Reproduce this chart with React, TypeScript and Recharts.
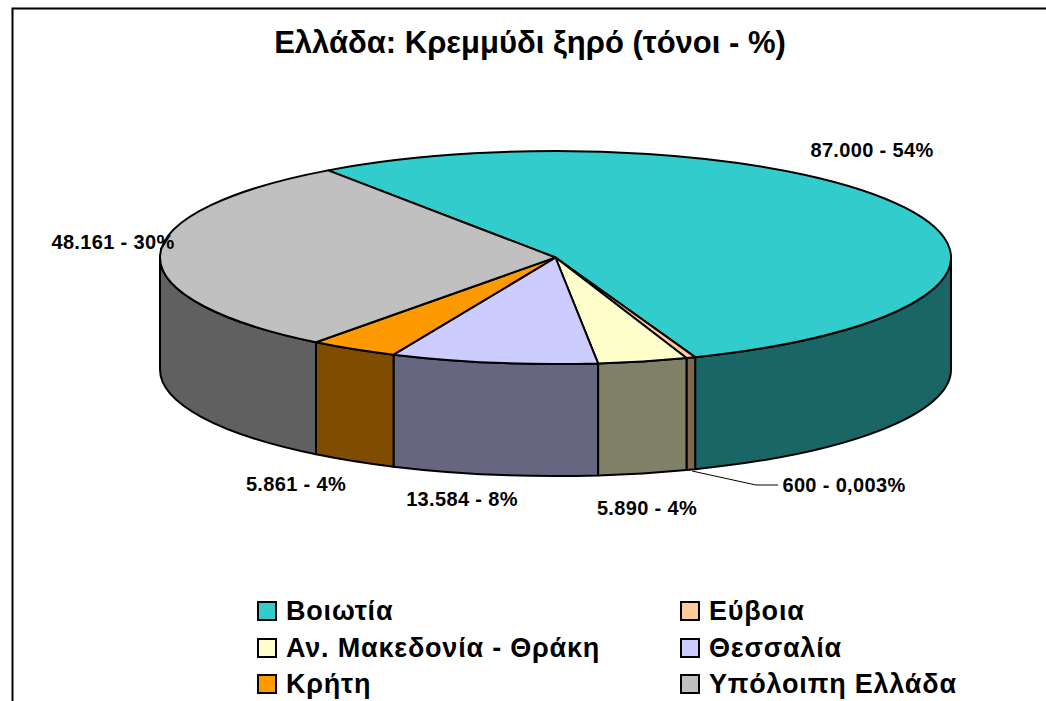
import { Legend, Pie, PieChart } from 'recharts'

const regions = ['Βοιωτία', 'Εύβοια', 'Αν. Μακεδονία - Θράκη', 'Θεσσαλία', 'Κρήτη', 'Υπόλοιπη Ελλάδα']
const tonnes = [87000, 600, 5890, 13584, 5861, 48161]
const valueLabels = ['87.000 - 54%', '600 - 0,003%', '5.890 - 4%', '13.584 - 8%', '5.861 - 4%', '48.161 - 30%']
const topColors = ['#33CCCC', '#FFCC99', '#FFFFCC', '#CCCCFF', '#FF9900', '#C0C0C0']
const wallColors = ['#1A6666', '#80664D', '#808066', '#666680', '#804D00', '#606060']

// label centres, set by hand in the original chart too
const labelSpots = [
  [872, 150],
  [844, 485],
  [647, 508],
  [462, 499],
  [296, 484],
  [113, 242],
]

const topData = regions.map((name, i) => ({ name, value: tonnes[i], fill: topColors[i] }))
const wallData = regions.map((name, i) => ({ name, value: tonnes[i], fill: wallColors[i] }))

const FONT = '"Liberation Sans", Arial, sans-serif'
const CX = 555.5
const CY = 257.5
const RX = 395.5
const RY = 106.5
const DEPTH = 112
const START_ANGLE = 125.1

const pointAt = (angle: number, drop = 0) => {
  const rad = (angle * Math.PI) / 180
  return [CX + RX * Math.cos(rad), CY - RY * Math.sin(rad) + drop]
}

function TopSlice(props: any) {
  const { startAngle, endAngle, fill } = props
  const [x1, y1] = pointAt(startAngle)
  const [x2, y2] = pointAt(endAngle)
  const large = Math.abs(startAngle - endAngle) > 180 ? 1 : 0
  const d = `M${CX},${CY}L${x1},${y1}A${RX},${RY} 0 ${large} 1 ${x2},${y2}Z`
  return <path d={d} fill={fill} stroke="#000" strokeWidth={2} strokeLinejoin="round" />
}

function WallSlice(props: any) {
  const { startAngle, endAngle, fill } = props
  // only the front half of the rim is visible (angles -180..0 going clockwise)
  const from = Math.min(startAngle, 0)
  const to = Math.max(endAngle, -180)
  if (from <= to) return null
  const [x1, y1] = pointAt(from)
  const [x2, y2] = pointAt(to)
  const d =
    `M${x1},${y1}A${RX},${RY} 0 0 1 ${x2},${y2}` +
    `L${x2},${y2 + DEPTH}A${RX},${RY} 0 0 0 ${x1},${y1 + DEPTH}Z`
  return <path d={d} fill={fill} stroke="#000" strokeWidth={2} strokeLinejoin="round" />
}

function SliceLabel({ index }: any) {
  const [x, y] = labelSpots[index]
  return (
    <g>
      {index === 1 && <polyline points="692,471 756,485 778,485" fill="none" stroke="#000" strokeWidth={1} />}
      <text
        x={x}
        y={y}
        textAnchor="middle"
        dominantBaseline="central"
        fontFamily={FONT}
        fontWeight="bold"
        fontSize={20}
        letterSpacing={0.35}
        fill="#000"
      >
        {valueLabels[index]}
      </text>
    </g>
  )
}

function LegendBox({ payload }: any) {
  // the wall pie also reports items, keep only the top faces
  const items = (payload || []).filter((entry: any) => topColors.includes(entry.color))
  return (
    <div
      style={{
        display: 'grid',
        gridTemplateColumns: '423px 300px',
        gridAutoRows: '36.5px',
        fontFamily: FONT,
        fontWeight: 'bold',
        fontSize: 27,
        letterSpacing: 0.8,
        color: '#000',
      }}
    >
      {items.map((entry: any) => (
        <div key={entry.value} style={{ display: 'flex', alignItems: 'center', whiteSpace: 'nowrap', lineHeight: '28px' }}>
          <span
            style={{
              width: 16,
              height: 16,
              background: entry.color,
              border: '2px solid #000',
              marginRight: 9,
              flex: 'none',
            }}
          />
          {entry.value}
        </div>
      ))}
    </div>
  )
}

export default function App() {
  return (
    <div style={{ position: 'absolute', left: 0, top: 0, width: 1046, height: 701, overflow: 'hidden', background: '#fff' }}>
      <PieChart width={1046} height={701} margin={{ top: 0, right: 0, bottom: 0, left: 0 }}>
        {/* frame runs off the right and bottom of the picture */}
        <rect x={12.5} y={8.5} width={1100} height={720} fill="#fff" stroke="#000" strokeWidth={2} />
        <text x={530} y={42} textAnchor="middle" dominantBaseline="central" fontFamily={FONT} fontWeight="bold" fontSize={31} fill="#000">
          Ελλάδα: Κρεμμύδι ξηρό (τόνοι - %)
        </text>
        <Pie
          data={wallData}
          dataKey="value"
          nameKey="name"
          cx={CX}
          cy={CY}
          outerRadius={RX}
          startAngle={START_ANGLE}
          endAngle={START_ANGLE - 360}
          shape={WallSlice}
          legendType="none"
          isAnimationActive={false}
        />
        <Pie
          data={topData}
          dataKey="value"
          nameKey="name"
          cx={CX}
          cy={CY}
          outerRadius={RX}
          startAngle={START_ANGLE}
          endAngle={START_ANGLE - 360}
          shape={TopSlice}
          label={SliceLabel}
          labelLine={false}
          isAnimationActive={false}
        />
        <Legend
          content={LegendBox}
          itemSorter={null}
          layout="horizontal"
          verticalAlign="top"
          align="left"
          wrapperStyle={{ left: 257, top: 593, width: 760 }}
        />
      </PieChart>
    </div>
  )
}
